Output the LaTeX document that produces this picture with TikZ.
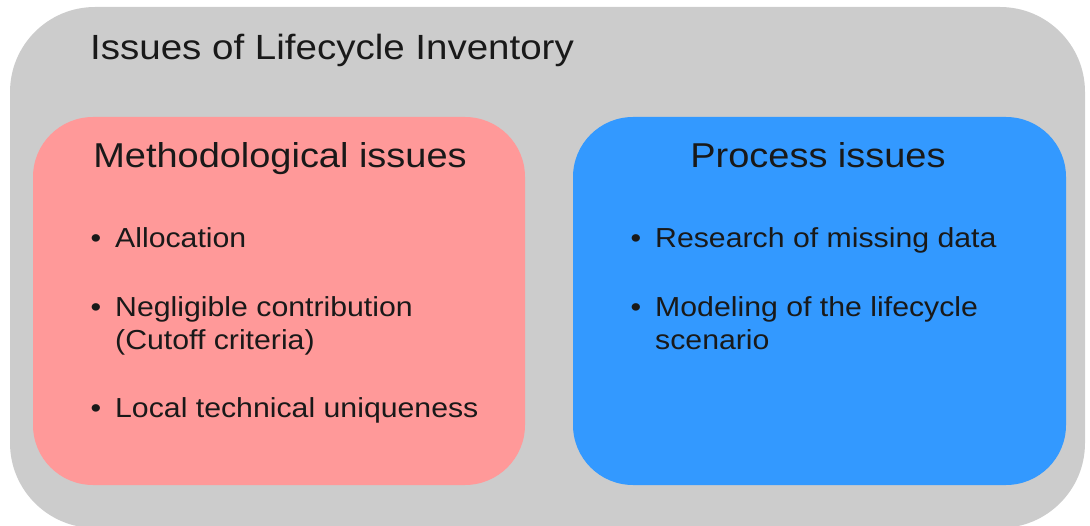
\documentclass[tikz,border=0pt]{standalone}
\usepackage{fontspec}
\setmainfont{Liberation Sans}[FakeStretch=1.1]
\usetikzlibrary{positioning}
\definecolor{lcigray}{HTML}{CCCCCC}
\definecolor{methpink}{HTML}{FF9999}
\definecolor{procblue}{HTML}{3399FF}
\newcommand{\itembullet}{\llap{\textbullet\hspace{14pt}}}

\begin{document}
\begin{tikzpicture}[
    x=1pt, y=-1pt,
    panel/.style={inner sep=0pt, outer sep=0pt},
    titletext/.style={font=\fontsize{35}{42}\selectfont, text=black!90, inner sep=0pt, anchor=base west},
    headtext/.style={font=\fontsize{34.5}{41}\selectfont, text=black!90, inner sep=0pt, anchor=base},
    itemtext/.style={font=\fontsize{27.5}{33}\selectfont, text=black!90, inner sep=0pt, anchor=base west, align=left}
]
\useasboundingbox (0,0) rectangle (1090,526);
% Outer frame
\node[panel, fill=lcigray, rounded corners=85pt, minimum width=1075pt, minimum height=521pt] (outer) at (547.5,267.5) {};
\node[titletext] (title) at (90,60) {Issues of Lifecycle Inventory};
% Two groups
\node[panel, fill=methpink, rounded corners=60pt, minimum width=492pt, minimum height=368pt] (meth) at (279,301) {};
\node[panel, fill=procblue, rounded corners=60pt, minimum width=493pt, minimum height=368pt] (proc) at (819.5,301) {};
\node[headtext] (methhead) at (280,168) {Methodological issues};
\node[headtext] (prochead) at (818,168) {Process issues};
% Items (multi-line ones sit on their last line)
\node[itemtext] (alloc) at (115,248) {\itembullet Allocation};
\node[itemtext] (neglig) at (115,350) {\itembullet Negligible contribution\\(Cutoff criteria)};
\node[itemtext] (local) at (115,418) {\itembullet Local technical uniqueness};
\node[itemtext] (research) at (655,248) {\itembullet Research of missing data};
\node[itemtext] (modeling) at (655,350) {\itembullet Modeling of the lifecycle\\scenario};
\end{tikzpicture}
\end{document}
